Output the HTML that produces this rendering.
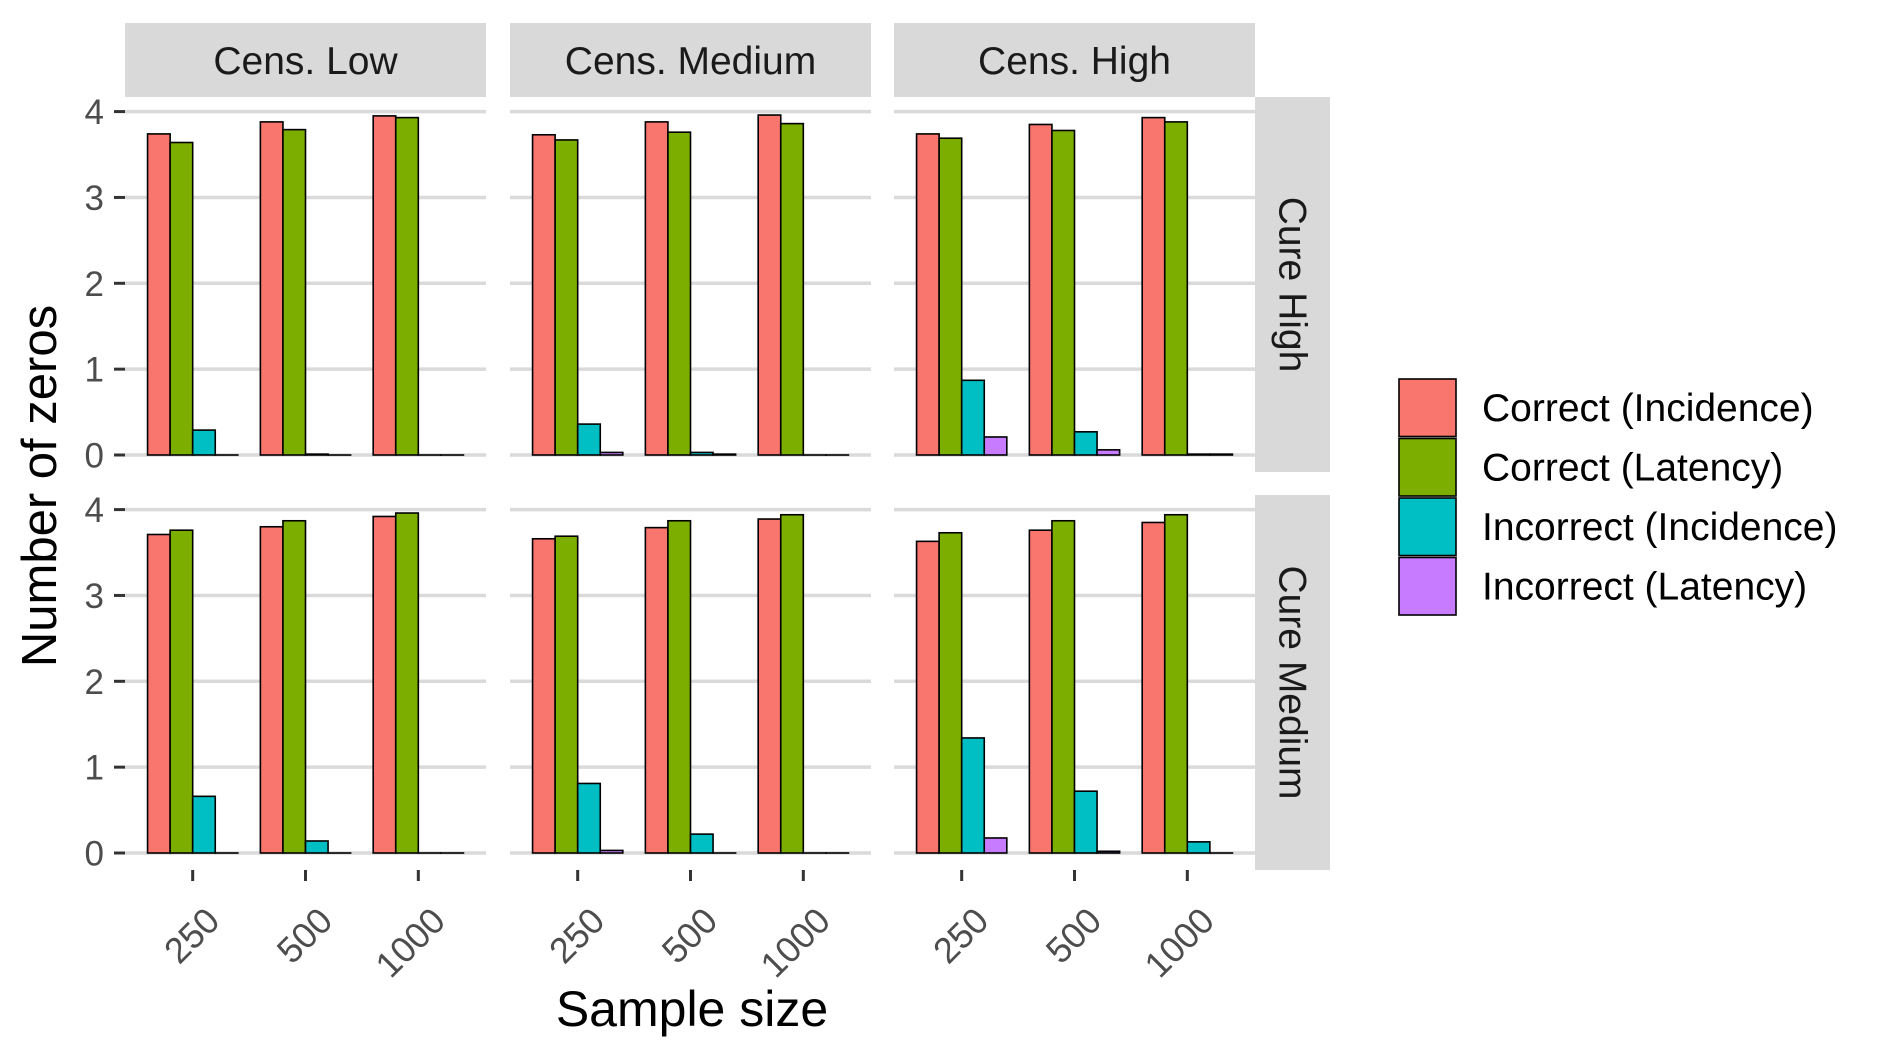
<!DOCTYPE html>
<html><head><meta charset="utf-8"><style>
html,body{margin:0;padding:0;background:#fff;}
svg{display:block;font-family:"Liberation Sans",sans-serif;}
</style></head><body>
<svg id="chart" width="1889" height="1062" viewBox="0 0 1889 1062" xmlns="http://www.w3.org/2000/svg"></svg>
<script>
const colFacets = ["Cens. Low","Cens. Medium","Cens. High"];
const rowFacets = ["Cure High","Cure Medium"];
const categories = ["250","500","1000"];
const seriesNames = ["Correct (Incidence)","Correct (Latency)","Incorrect (Incidence)","Incorrect (Latency)"];
const seriesColors = ["#F8766D","#7CAE00","#00BFC4","#C77CFF"];
const yTicks = [0,1,2,3,4];
// values[row][col][category] per series
const correctIncidence = [
  [[3.74,3.88,3.95],[3.73,3.88,3.96],[3.74,3.85,3.93]],
  [[3.71,3.80,3.92],[3.66,3.79,3.89],[3.63,3.76,3.85]]
];
const correctLatency = [
  [[3.64,3.79,3.93],[3.67,3.76,3.86],[3.69,3.78,3.88]],
  [[3.76,3.87,3.96],[3.69,3.87,3.94],[3.73,3.87,3.94]]
];
const incorrectIncidence = [
  [[0.29,0.01,0.0],[0.36,0.03,0.0],[0.87,0.27,0.01]],
  [[0.66,0.14,0.0],[0.81,0.22,0.0],[1.34,0.72,0.13]]
];
const incorrectLatency = [
  [[0.0,0.0,0.0],[0.03,0.01,0.0],[0.21,0.06,0.01]],
  [[0.0,0.0,0.0],[0.03,0.0,0.0],[0.175,0.02,0.0]]
];
const series = [correctIncidence,correctLatency,incorrectIncidence,incorrectLatency];

const NS="http://www.w3.org/2000/svg";
const svg=document.getElementById('chart');
function mk(tag,attrs,parent){const e=document.createElementNS(NS,tag);for(const k in attrs)e.setAttribute(k,attrs[k]);(parent||svg).appendChild(e);return e;}

const colX=[125,510,894], panelW=361;
const rowY=[97,495], panelH=375;
const yMin=-0.198, yMax=4.17;
function yScale(r,v){return rowY[r]+panelH*(yMax-v)/(yMax-yMin);}
const xMin=0.4,xMax=3.6;
function xScale(c,pos){return colX[c]+panelW*(pos-xMin)/(xMax-xMin);}

colFacets.forEach((name,c)=>{
  const g=mk('g',{});
  
  
  mk('rect',{x:colX[c],y:23,width:panelW,height:74,fill:'#d9d9d9'},g);
  const t=mk('text',{x:colX[c]+panelW/2,y:74,'text-anchor':'middle','font-size':39,fill:'#1a1a1a'},g);
  t.textContent=name;
});
rowFacets.forEach((name,r)=>{
  const g=mk('g',{});
  
  
  mk('rect',{x:1255,y:rowY[r],width:75,height:panelH,fill:'#d9d9d9'},g);
  const cx=1292,cy=rowY[r]+panelH/2;
  const t=mk('text',{x:cx,y:cy,'text-anchor':'middle','dominant-baseline':'central','font-size':39,fill:'#1a1a1a',transform:`rotate(90 ${cx} ${cy})`},g);
  t.textContent=name;
});

for(let r=0;r<2;r++){
  for(let c=0;c<3;c++){
    const g=mk('g',{});
    
    
    yTicks.forEach(v=>{
      const gl=mk('line',{x1:colX[c],x2:colX[c]+panelW,y1:yScale(r,v),y2:yScale(r,v),stroke:'#dadada','stroke-width':3.5},g);
      
      
    });
    const bw=0.8/4;
    categories.forEach((cat,k)=>{
      series.forEach((s,si)=>{
        const v=s[r][c][k];
        const x0=xScale(c,k+1-0.4+si*bw), x1=xScale(c,k+1-0.4+(si+1)*bw);
        const y0=yScale(r,0), y1=yScale(r,v);
        const b=mk('rect',{x:x0,y:Math.min(y0,y1),width:x1-x0,height:Math.max(Math.abs(y0-y1),0.01),fill:seriesColors[si],stroke:'#000','stroke-width':1.6},g);
        
        
      });
    });
  }
  yTicks.forEach(v=>{
    const y=yScale(r,v);
    const tk=mk('line',{x1:114,x2:125,y1:y,y2:y,stroke:'#333','stroke-width':3});
    
    
    const t=mk('text',{x:104,y:y+12.5,'text-anchor':'end','font-size':35,fill:'#4d4d4d'});
    
    
    t.textContent=v;
  });
}
for(let c=0;c<3;c++){
  categories.forEach((cat,k)=>{
    const x=xScale(c,k+1);
    const tk=mk('line',{x1:x,x2:x,y1:870,y2:881,stroke:'#333','stroke-width':3});
    
    
    const ax=x+29, ay=923;
    const t=mk('text',{x:ax,y:ay,'text-anchor':'end','font-size':36,fill:'#4d4d4d',transform:`rotate(-45 ${ax} ${ay})`});
    
    
    t.textContent=cat;
  });
}
const yt=mk('text',{x:56,y:486,'text-anchor':'middle','font-size':49,fill:'#000',transform:'rotate(-90 56 486)'});


yt.textContent='Number of zeros';
const xt=mk('text',{x:692,y:1026,'text-anchor':'middle','font-size':50,fill:'#000'});


xt.textContent='Sample size';

seriesNames.forEach((name,i)=>{
  const g=mk('g',{});
  
  
  const y=379+i*59.5;
  mk('rect',{x:1399,y:y,width:57,height:57.5,fill:seriesColors[i],stroke:'#000','stroke-width':1.6},g);
  const t=mk('text',{x:1482,y:y+42,'font-size':39,fill:'#000'},g);
  t.textContent=name;
});
</script>
</body></html>
